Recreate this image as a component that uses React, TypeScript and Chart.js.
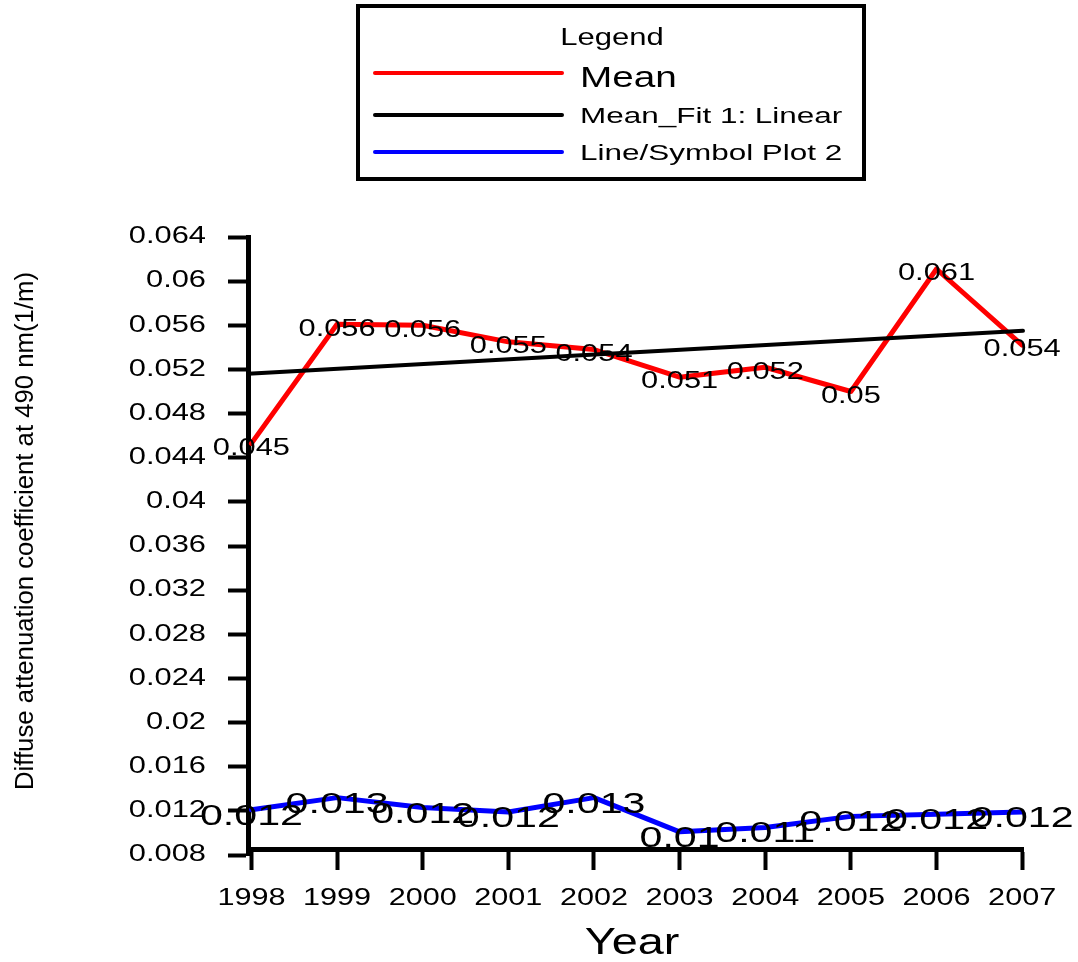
import React, { useEffect, useRef } from "react";
import { Chart, registerables } from "chart.js";

Chart.register(...registerables);

// ---------- data ----------
const YEARS = [1998, 1999, 2000, 2001, 2002, 2003, 2004, 2005, 2006, 2007];
const MEAN = [0.0453, 0.0561, 0.056, 0.0545, 0.0538, 0.0513, 0.0522, 0.05, 0.0611, 0.0542];
const MEAN_LABELS = ["0.045", "0.056", "0.056", "0.055", "0.054", "0.051", "0.052", "0.05", "0.061", "0.054"];
const FIT_X = [1997.96, 2007.01];
const FIT_Y = [0.0516, 0.0555];
const PLOT2 = [0.0121, 0.0132, 0.0123, 0.0119, 0.0132, 0.0101, 0.0105, 0.0115, 0.0117, 0.0119];
const PLOT2_LABELS = ["0.012", "0.013", "0.012", "0.012", "0.013", "0.01", "0.011", "0.012", "0.012", "0.012"];
const Y_TICKS = [0.008, 0.012, 0.016, 0.02, 0.024, 0.028, 0.032, 0.036, 0.04, 0.044, 0.048, 0.052, 0.056, 0.06, 0.064];
const Y_TICK_LABELS = ["0.008", "0.012", "0.016", "0.02", "0.024", "0.028", "0.032", "0.036", "0.04", "0.044", "0.048", "0.052", "0.056", "0.06", "0.064"];
const X_MIN = 1997.96;
const X_MAX = 2007.01;
const Y_MIN = 0.008;
const Y_MAX = 0.064;
const X_AXIS_AT = 0.00852;
const X_TITLE = "Year";
const Y_TITLE = "Diffuse attenuation coefficient at 490 nm(1/m)";
const LEGEND_TITLE = "Legend";
const SERIES_NAMES = ["Mean", "Mean_Fit 1: Linear", "Line/Symbol Plot 2"];

const FONT = '"Liberation Sans", Arial, Helvetica, sans-serif';

function drawText(
  ctx: CanvasRenderingContext2D,
  text: string,
  x: number,
  y: number,
  size: number,
  sx: number,
  align: "left" | "center" | "right",
  baseline: CanvasTextBaseline = "middle"
) {
  ctx.save();
  ctx.font = `${size}px ${FONT}`;
  ctx.textAlign = "left";
  ctx.textBaseline = baseline;
  ctx.fillStyle = "#000";
  const w = ctx.measureText(text).width * sx;
  const left = align === "center" ? x - w / 2 : align === "right" ? x - w : x;
  ctx.translate(left, y);
  ctx.scale(sx, 1);
  ctx.fillText(text, 0, 0);
  ctx.restore();
}

const LABEL_STYLE: Record<string, { labels: string[]; size: number; sx: number; dy: number }> = {
  [SERIES_NAMES[0]]: { labels: MEAN_LABELS, size: 23, sx: 1.34, dy: 5 },
  [SERIES_NAMES[2]]: { labels: PLOT2_LABELS, size: 29, sx: 1.42, dy: 7 },
};

const originPlugin = {
  id: "originText",
  afterDatasetDraw(chart: any, args: any) {
    const ds = chart.data.datasets[args.index];
    const st = LABEL_STYLE[ds.label];
    if (!st) return;
    const ctx = chart.ctx as CanvasRenderingContext2D;
    args.meta.data.forEach((pt: any, i: number) => {
      drawText(ctx, st.labels[i], pt.x, pt.y + st.dy, st.size, st.sx, "center");
    });
  },
  afterDraw(chart: any) {
    const ctx = chart.ctx as CanvasRenderingContext2D;
    const ys = chart.scales.y;
    const xs = chart.scales.x;
    const area = chart.chartArea;

    Y_TICKS.forEach((v, i) => {
      drawText(ctx, Y_TICK_LABELS[i], area.left - 42, ys.getPixelForValue(v), 23, 1.34, "right");
    });
    YEARS.forEach((yr) => {
      drawText(ctx, String(yr), xs.getPixelForValue(yr), 905, 23, 1.33, "center", "alphabetic");
    });
    drawText(ctx, X_TITLE, 632, 954, 36, 1.3, "center", "alphabetic");

    ctx.save();
    ctx.translate(33, 531);
    ctx.rotate(-Math.PI / 2);
    ctx.font = `26px ${FONT}`;
    const natural = ctx.measureText(Y_TITLE).width;
    drawText(ctx, Y_TITLE, 0, 0, 26, 518 / natural, "center", "alphabetic");
    ctx.restore();

    // legend box
    ctx.save();
    ctx.lineWidth = 4;
    ctx.strokeStyle = "#000";
    ctx.strokeRect(358, 6, 506, 173);
    ctx.restore();
    drawText(ctx, LEGEND_TITLE, 612, 45, 23, 1.35, "center", "alphabetic");
    const lineYs = [73, 115, 152];
    const textYs = [87, 123, 160];
    const sizes = [30, 22, 22];
    const sxs = [1.29, 1.43, 1.43];
    chart.data.datasets.forEach((ds: any, i: number) => {
      ctx.save();
      ctx.strokeStyle = ds.borderColor;
      ctx.lineWidth = 4;
      ctx.lineCap = "round";
      ctx.beginPath();
      ctx.moveTo(375, lineYs[i]);
      ctx.lineTo(562, lineYs[i]);
      ctx.stroke();
      ctx.restore();
      drawText(ctx, ds.label, 580, textYs[i], sizes[i], sxs[i], "left", "alphabetic");
    });
  },
};

export default function App() {
  const canvasRef = useRef<HTMLCanvasElement | null>(null);

  useEffect(() => {
    const canvas = canvasRef.current;
    if (!canvas) return;
    const chart = new Chart(canvas, {
      type: "line",
      data: {
        datasets: [
          {
            label: SERIES_NAMES[0],
            data: YEARS.map((x, i) => ({ x, y: MEAN[i] })),
            borderColor: "#ff0000",
            backgroundColor: "#ff0000",
            borderWidth: 5,
            pointRadius: 0,
            tension: 0,
            borderJoinStyle: "round",
            borderCapStyle: "round",
            clip: false,
            order: 3,
          },
          {
            label: SERIES_NAMES[1],
            data: FIT_X.map((x, i) => ({ x, y: FIT_Y[i] })),
            borderColor: "#000000",
            backgroundColor: "#000000",
            borderWidth: 4,
            pointRadius: 0,
            tension: 0,
            borderCapStyle: "round",
            clip: false,
            order: 2,
          },
          {
            label: SERIES_NAMES[2],
            data: YEARS.map((x, i) => ({ x, y: PLOT2[i] })),
            borderColor: "#0000ff",
            backgroundColor: "#0000ff",
            borderWidth: 5,
            pointRadius: 0,
            tension: 0,
            borderJoinStyle: "round",
            borderCapStyle: "round",
            clip: false,
            order: 1,
          },
        ],
      } as any,
      options: {
        responsive: false,
        animation: false,
        devicePixelRatio: 1,
        layout: { padding: { top: 237, right: 55, bottom: 107, left: 0 } },
        plugins: {
          legend: { display: false },
          tooltip: { enabled: false },
          title: { display: false },
        },
        scales: {
          x: {
            type: "linear",
            min: X_MIN,
            max: X_MAX,
            position: { y: X_AXIS_AT } as any,
            afterBuildTicks: (s: any) => {
              s.ticks = YEARS.map((v) => ({ value: v }));
            },
            ticks: { display: false },
            grid: {
              display: true,
              drawOnChartArea: false,
              drawTicks: true,
              tickLength: 18,
              tickWidth: 4,
              tickColor: "#000",
            },
            border: { display: true, color: "#000", width: 5 },
          },
          y: {
            type: "linear",
            min: Y_MIN,
            max: Y_MAX,
            position: "left",
            afterBuildTicks: (s: any) => {
              s.ticks = Y_TICKS.map((v) => ({ value: v }));
            },
            afterFit: (s: any) => {
              s.width = 248;
            },
            ticks: { display: false },
            grid: {
              display: true,
              drawOnChartArea: false,
              drawTicks: true,
              tickLength: 20,
              tickWidth: 4,
              tickColor: "#000",
            },
            border: { display: true, color: "#000", width: 5 },
          },
        } as any,
      },
      plugins: [originPlugin as any],
    });
    return () => chart.destroy();
  }, []);

  return (
    <div style={{ position: "absolute", left: 0, top: 0, width: 1078, height: 962, background: "#fff" }}>
      <canvas ref={canvasRef} width={1078} height={962} style={{ display: "block" }} />
    </div>
  );
}
